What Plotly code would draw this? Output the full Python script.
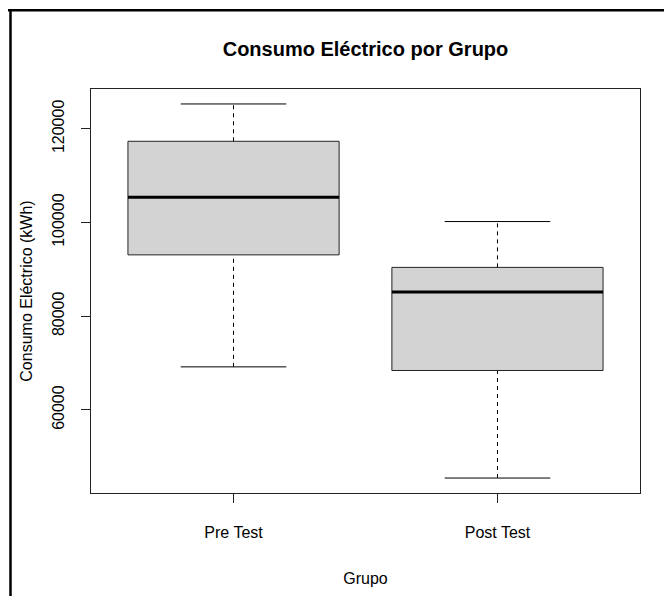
import plotly.graph_objects as go

# ---- data ----
groups = ["Pre Test", "Post Test"]
lower_whisker = [69200, 45480]
q1 = [93100, 68430]
median = [105400, 85190]
q3 = [117340, 90430]
upper_whisker = [125300, 100210]

title_text = "Consumo Eléctrico por Grupo"
x_title = "Grupo"
y_title = "Consumo Eléctrico (kWh)"
y_ticks = [60000, 80000, 100000, 120000]

# ---- style ----
FONT = "Liberation Sans, Arial, sans-serif"
BOX_HALF = 0.4
CAP_HALF = 0.2
FILL = "#d3d3d3"
EDGE = "#222222"

fig = go.Figure()
for i, g in enumerate(groups):
    xc = i + 1
    # box
    fig.add_trace(go.Scatter(
        x=[xc - BOX_HALF, xc + BOX_HALF, xc + BOX_HALF, xc - BOX_HALF, xc - BOX_HALF],
        y=[q1[i], q1[i], q3[i], q3[i], q1[i]],
        mode="lines", fill="toself", fillcolor=FILL,
        line=dict(color=EDGE, width=1), hoverinfo="skip", showlegend=False))
    # median
    fig.add_trace(go.Scatter(
        x=[xc - BOX_HALF, xc + BOX_HALF], y=[median[i], median[i]],
        mode="lines", line=dict(color="black", width=3), showlegend=False))
    # whiskers (dashed)
    fig.add_trace(go.Scatter(
        x=[xc, xc, None, xc, xc],
        y=[q3[i], upper_whisker[i], None, lower_whisker[i], q1[i]],
        mode="lines", line=dict(color="black", width=1, dash="4px,4px"),
        showlegend=False))
    # staples
    fig.add_trace(go.Scatter(
        x=[xc - CAP_HALF, xc + CAP_HALF, None, xc - CAP_HALF, xc + CAP_HALF],
        y=[upper_whisker[i], upper_whisker[i], None, lower_whisker[i], lower_whisker[i]],
        mode="lines", line=dict(color="black", width=1), showlegend=False))

lo = min(lower_whisker)
hi = max(upper_whisker)
pad = 0.04 * (hi - lo)
n = len(groups)
xpad = 0.04 * n

# page body has an 8px margin; figure sized to fit the window
OFF = 8
W, H = 672 - OFF, 596 - OFF
L, T = 91 - OFF, 89 - OFF
R = W - (640 - OFF)
B = H - (500 - OFF)
pw, ph = W - L - R, H - T - B

def px_x(p):
    return (p - OFF - L) / pw

def px_y(p):
    return (H - B - (p - OFF)) / ph

fig.update_layout(
    width=W, height=H,
    margin=dict(l=L, r=R, t=T, b=B, pad=0),
    paper_bgcolor="white", plot_bgcolor="white",
    font=dict(family=FONT, size=16, color="black"),
    title=dict(text=title_text, x=0.5, xref="paper", y=1 - (49 - OFF) / H, yanchor="middle",
               font=dict(family=FONT, size=20, color="black", weight="bold")),
    xaxis=dict(range=[0.5 - xpad / 2, n + 0.5 + xpad / 2],
               tickmode="array", tickvals=list(range(1, n + 1)), ticktext=groups,
               showgrid=False, zeroline=False, showline=True, mirror=True,
               linecolor=EDGE, linewidth=1, ticks="outside", ticklen=9,
               tickcolor=EDGE, tickfont=dict(size=16), ticklabelstandoff=16,
               title=dict(text=x_title, standoff=32, font=dict(size=16))),
    yaxis=dict(range=[lo - pad, hi + pad],
               tickmode="array", tickvals=y_ticks, ticktext=[str(v) for v in y_ticks],
               tickangle=-90,
               showgrid=False, zeroline=False, showline=True, mirror=True,
               linecolor=EDGE, linewidth=1, ticks="outside", ticklen=9,
               tickcolor=EDGE, tickfont=dict(size=16), ticklabelstandoff=11,
               title=dict(text=y_title, standoff=12, font=dict(size=16))),
)

# outer frame (top and left edges of the screenshot frame)
fig.add_shape(type="line", xref="paper", yref="paper",
              x0=px_x(8), x1=px_x(690), y0=px_y(9), y1=px_y(9),
              line=dict(color="black", width=2.5))
fig.add_shape(type="line", xref="paper", yref="paper",
              x0=px_x(10.5), x1=px_x(10.5), y0=px_y(8), y1=px_y(610),
              line=dict(color="black", width=2.5))

fig.write_html("out.html")
